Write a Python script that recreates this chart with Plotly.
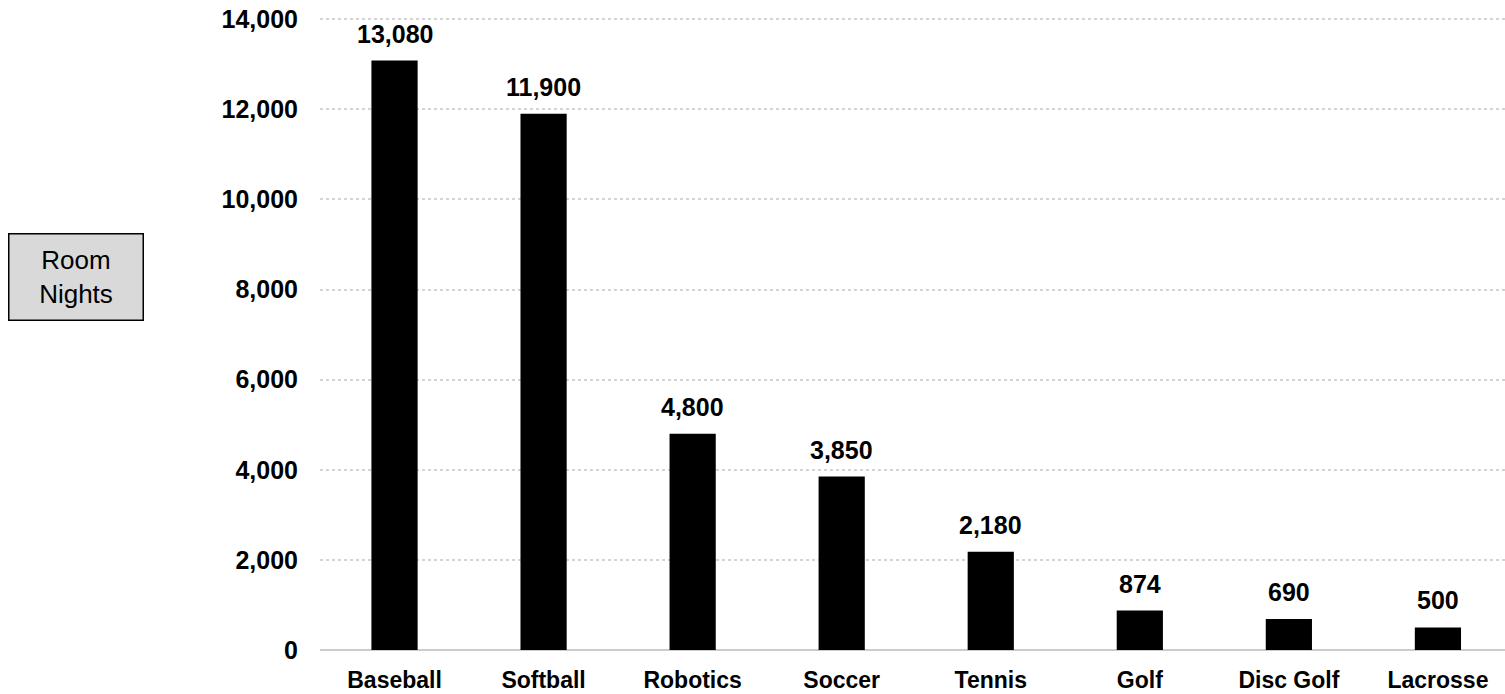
import plotly.graph_objects as go

sports = ["Baseball", "Softball", "Robotics", "Soccer", "Tennis", "Golf", "Disc Golf", "Lacrosse"]
room_nights = [13080, 11900, 4800, 3850, 2180, 874, 690, 500]
y_ticks = [0, 2000, 4000, 6000, 8000, 10000, 12000, 14000]

FONT = "Liberation Sans, Arial, sans-serif"

fig = go.Figure(
    go.Bar(
        x=sports,
        y=room_nights,
        marker=dict(color="black", line=dict(width=0)),
        width=0.31,
        hoverinfo="x+y",
    )
)

# value labels above each bar
value_labels = [
    dict(
        x=s,
        y=v,
        xref="x",
        yref="y",
        text=f"{v:,}",
        showarrow=False,
        xanchor="center",
        yanchor="bottom",
        yshift=11,
        font=dict(family=FONT, size=25, color="black", weight="bold"),
    )
    for s, v in zip(sports, room_nights)
]

axis_title_box = dict(
    text="Room<br>Nights",
    xref="paper",
    yref="paper",
    x=(75.5 - 320) / 1185,
    y=(650 - 277) / 632,
    xanchor="center",
    yanchor="middle",
    showarrow=False,
    align="center",
    font=dict(family=FONT, size=26, color="black"),
    bgcolor="#d9d9d9",
    bordercolor="black",
    borderwidth=1.5,
    borderpad=0,
    width=133,
    height=85,
)

fig.update_layout(
    width=1505,
    height=694,
    margin=dict(l=320, r=0, t=18, b=44),
    plot_bgcolor="white",
    paper_bgcolor="white",
    showlegend=False,
    font=dict(family=FONT, color="black"),
    xaxis=dict(
        range=[-0.5, 7.45],
        showgrid=False,
        showline=False,
        ticks="",
        ticklabelstandoff=14,
        tickfont=dict(family=FONT, size=23, color="black", weight="bold"),
    ),
    yaxis=dict(
        range=[0, 14025],
        tickvals=y_ticks,
        ticktext=[f"{v:,}" for v in y_ticks],
        showgrid=True,
        gridcolor="#d4d4d4",
        gridwidth=1.5,
        griddash="dot",
        zeroline=True,
        zerolinecolor="#cccccc",
        zerolinewidth=2,
        showline=False,
        ticks="",
        ticklabelstandoff=21,
        tickfont=dict(family=FONT, size=25, color="black", weight="bold"),
    ),
    annotations=value_labels + [axis_title_box],
)

fig.write_html("out.html")
